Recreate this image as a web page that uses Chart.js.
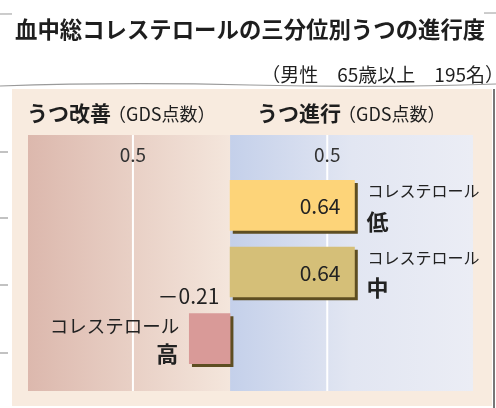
<!DOCTYPE html>
<html>
<head>
<meta charset="utf-8">
<script src="https://cdn.jsdelivr.net/npm/chart.js@4"></script>
<style>
  html, body { margin: 0; padding: 0; background: #fff; }
  #wrap { width: 496px; height: 408px; position: relative; }
</style>
</head>
<body>
<div id="wrap"><canvas id="chart" width="496" height="408"></canvas></div>
<script>
const FONT = '"Noto Sans CJK JP", "Noto Sans", sans-serif';

const title = "血中総コレステロールの三分位別うつの進行度";
const subtitle = "（男性　65歳以上　195名）";
const sideHeaders = [["うつ改善", "（GDS点数）"], ["うつ進行", "（GDS点数）"]];
const groups = ["低", "中", "高"];
const groupPrefix = "コレステロール";
const gdsChange = [0.64, 0.64, -0.21];
const valueLabels = ["0.64", "0.64", "－0.21"];
const tickValues = [-0.5, 0.5];
const tickLabels = ["0.5", "0.5"];
const barColors = ["#fdd479", "#d5bf78", "#d99a98"];

// frame, headers and the two tinted halves behind the bars
const decor = {
  id: "decor",
  beforeDraw(chart) {
    const { ctx, scales: { x } } = chart;
    const zero = x.getPixelForValue(0);
    const top = 135, bottom = 391, left = 28, right = 473;
    ctx.save();
    ctx.strokeStyle = "#9a9a9a";
    ctx.lineWidth = 1.2;
    ctx.beginPath(); ctx.moveTo(0, 14); ctx.lineTo(496, 13); ctx.stroke();
    ctx.beginPath(); ctx.moveTo(0, 86); ctx.quadraticCurveTo(120, 82, 250, 85); ctx.quadraticCurveTo(380, 88, 496, 84); ctx.stroke();
    [152, 218, 285, 353].forEach((yy) => { ctx.beginPath(); ctx.moveTo(0, yy); ctx.lineTo(8, yy); ctx.stroke(); });
    ctx.fillStyle = "#fff";
    ctx.fillRect(12, 2, 472, 26);

    ctx.fillStyle = "#f8ebdf";
    ctx.fillRect(12, 89, 480, 317);
    ctx.fillStyle = "#777";
    ctx.fillRect(493, 89, 2, 319);

    let g = ctx.createLinearGradient(left, 0, zero, 0);
    g.addColorStop(0, "#dcb8ad");
    g.addColorStop(1, "#f4e6dc");
    ctx.fillStyle = g;
    ctx.fillRect(left, top, zero - left, bottom - top);
    g = ctx.createLinearGradient(zero, 0, right, 0);
    g.addColorStop(0, "#c4d0ea");
    g.addColorStop(0.5, "#e2e6f2");
    g.addColorStop(1, "#ebedf5");
    ctx.fillStyle = g;
    ctx.fillRect(zero, top, right - zero, bottom - top);

    ctx.strokeStyle = "#ffffff";
    ctx.lineWidth = 2;
    tickValues.forEach((v) => {
      const px = x.getPixelForValue(v);
      ctx.beginPath(); ctx.moveTo(px, top); ctx.lineTo(px, bottom); ctx.stroke();
    });

    ctx.fillStyle = "#1e1e1e";
    ctx.textBaseline = "middle";
    ctx.textAlign = "left";
    ctx.font = `bold 22.4px ${FONT}`;
    ctx.fillText(title, 15, 29);
    ctx.font = `19px ${FONT}`;
    ctx.textAlign = "right";
    ctx.fillText(subtitle, 504, 75);

    ctx.textAlign = "left";
    [27, 257].forEach((hx, i) => {
      ctx.font = `bold 21px ${FONT}`;
      ctx.fillText(sideHeaders[i][0], hx, 113);
      const w = ctx.measureText(sideHeaders[i][0]).width;
      ctx.font = `18px ${FONT}`;
      ctx.fillText(sideHeaders[i][1], hx + w - 3, 114);
    });

    ctx.font = `19px ${FONT}`;
    ctx.textAlign = "center";
    ctx.fillStyle = "#333";
    tickValues.forEach((v, i) => ctx.fillText(tickLabels[i], x.getPixelForValue(v), 155));
    ctx.restore();
  },
  beforeDatasetsDraw(chart) {
    const { ctx } = chart;
    ctx.save();
    ctx.shadowColor = "#5e4e22";
    ctx.shadowOffsetX = 3;
    ctx.shadowOffsetY = 3;
    ctx.shadowBlur = 0;
  },
  afterDatasetsDraw(chart) {
    const { ctx } = chart;
    ctx.restore();
    const meta = chart.getDatasetMeta(0);
    ctx.save();
    ctx.fillStyle = "#222";
    ctx.textBaseline = "middle";
    meta.data.forEach((bar, i) => {
      const v = gdsChange[i];
      if (v >= 0) {
        ctx.textAlign = "right";
        ctx.font = `21px ${FONT}`;
        ctx.fillText(valueLabels[i], bar.x - 14, bar.y + 1);
        ctx.textAlign = "left";
        ctx.font = `16px ${FONT}`;
        ctx.fillText(groupPrefix, bar.x + 13, bar.y - 14);
        ctx.font = `bold 22px ${FONT}`;
        ctx.fillText(groups[i], bar.x + 12, bar.y + 16);
      } else {
        ctx.textAlign = "right";
        ctx.font = `21px ${FONT}`;
        ctx.fillText(valueLabels[i], bar.x + 30, bar.y - 43);
        ctx.font = `18.5px ${FONT}`;
        ctx.fillText(groupPrefix, bar.x - 10, bar.y - 13);
        ctx.font = `bold 22px ${FONT}`;
        ctx.fillText(groups[i], bar.x - 11, bar.y + 15);
      }
    });
    ctx.restore();
  }
};

new Chart(document.getElementById("chart"), {
  type: "bar",
  data: {
    labels: groups,
    datasets: [{
      data: gdsChange,
      backgroundColor: barColors,
      borderWidth: 0,
      barThickness: 50
    }]
  },
  options: {
    indexAxis: "y",
    responsive: false,
    animation: false,
    layout: { padding: { left: 28, right: 23, top: 172, bottom: 36 } },
    plugins: { legend: { display: false }, tooltip: { enabled: false } },
    scales: {
      x: { display: false, min: -1.04, max: 1.25 },
      y: { display: false }
    }
  },
  plugins: [decor]
});
</script>
</body>
</html>
